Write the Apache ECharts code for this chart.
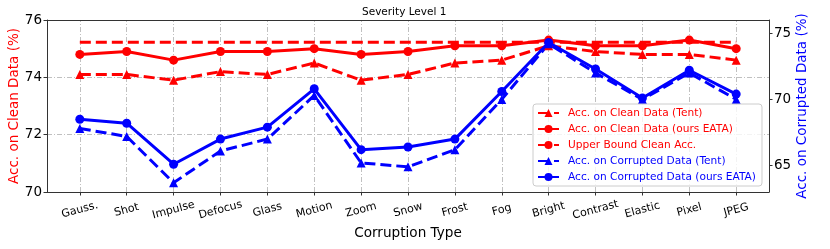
<!DOCTYPE html>
<html>
<head>
<meta charset="utf-8">
<script src="https://cdn.jsdelivr.net/npm/echarts@6/dist/echarts.min.js"></script>
<style>html,body{margin:0;padding:0;background:#fff}#c{width:830px;height:249px}</style>
</head>
<body>
<div id="c"></div>
<script>
const categories = ['Gauss.', 'Shot', 'Impulse', 'Defocus', 'Glass', 'Motion', 'Zoom', 'Snow', 'Frost', 'Fog', 'Bright', 'Contrast', 'Elastic', 'Pixel', 'JPEG'];
const cleanTent = [74.1, 74.1, 73.9, 74.2, 74.1, 74.5, 73.9, 74.1, 74.5, 74.6, 75.1, 74.9, 74.8, 74.8, 74.6];
const cleanEATA = [74.8, 74.9, 74.6, 74.9, 74.9, 75.0, 74.8, 74.9, 75.1, 75.1, 75.3, 75.1, 75.1, 75.3, 75.0];
const upperBound = [75.22, 75.22, 75.22, 75.22, 75.22, 75.22, 75.22, 75.22, 75.22, 75.22, 75.22, 75.22, 75.22, 75.22, 75.22];
const corrTent = [67.8, 67.2, 63.7, 66.1, 67.0, 70.3, 65.2, 64.9, 66.2, 70.0, 74.2, 72.0, 70.0, 72.0, 70.0];
const corrEATA = [68.5, 68.2, 65.1, 67.0, 67.9, 70.8, 66.2, 66.4, 67.0, 70.6, 74.3, 72.3, 70.1, 72.2, 70.4];
const leftTicks = [70, 72, 74, 76];
const rightTicks = [65, 70, 75];

const FONT = 'DejaVu Sans';
const RED = '#ff0000', BLUE = '#0000ff';
const idx = categories.map((_, i) => i);
const pts = arr => arr.map((v, i) => [i, v]);
const GRID_STYLE = { color: '#b0b0b0', width: 0.8, type: [5, 2, 1, 2] };
const spine = { show: true, onZero: false, lineStyle: { color: '#333', width: 1 } };
const LW = 3, DASH = [11, 5], SYM = 9;

const chart = echarts.init(document.getElementById('c'), null, { renderer: 'canvas' });
chart.setOption({
  animation: false,
  backgroundColor: '#fff',
  title: {
    text: 'Severity Level 1', left: 362, top: 7, padding: 0,
    textStyle: { fontFamily: FONT, fontSize: 10.5, fontWeight: 'normal', color: '#000' }
  },
  grid: { left: 47, right: 61, top: 20, bottom: 57, containLabel: false, outerBoundsMode: 'none' },
  legend: {
    orient: 'vertical', left: 533, top: 104,
    padding: [3, 6, 3, 4], itemGap: 4, itemWidth: 21, itemHeight: 10,
    borderColor: '#cccccc', borderWidth: 1, borderRadius: 3, backgroundColor: 'rgba(255,255,255,0.8)',
    textStyle: { fontFamily: FONT, fontSize: 10.6, lineHeight: 12, padding: [0, 0, 0, 4] },
    data: [
      { name: 'Acc. on Clean Data (Tent)', textStyle: { color: RED } },
      { name: 'Acc. on Clean Data (ours EATA)', textStyle: { color: RED } },
      { name: 'Upper Bound Clean Acc.', textStyle: { color: RED } },
      { name: 'Acc. on Corrupted Data (Tent)', textStyle: { color: BLUE } },
      { name: 'Acc. on Corrupted Data (ours EATA)', textStyle: { color: BLUE } }
    ]
  },
  xAxis: [{
    type: 'value', min: -0.7, max: 14.7, position: 'bottom',
    name: 'Corruption Type', nameLocation: 'middle', nameGap: 34, nameMoveOverlap: false,
    nameTextStyle: { fontFamily: FONT, fontSize: 13.6, color: '#000' },
    axisLine: spine,
    axisTick: { show: true, inside: false, length: 3.5, lineStyle: { color: '#333' }, customValues: idx },
    axisLabel: {
      customValues: idx, formatter: v => categories[Math.round(v)] || '',
      rotate: 15, align: 'center', verticalAlign: 'middle', margin: 18,
      fontFamily: FONT, fontSize: 11, color: '#000'
    },
    splitLine: { show: false }
  }, {
    type: 'value', min: -0.7, max: 14.7, position: 'top',
    axisLine: spine, axisTick: { show: false }, axisLabel: { show: false }, splitLine: { show: false }
  }],
  yAxis: [{
    type: 'value', min: 70, max: 76, interval: 2, position: 'left',
    name: 'Acc. on Clean Data (%)', nameLocation: 'middle', nameGap: 26, nameRotate: 90, nameMoveOverlap: false,
    nameTextStyle: { fontFamily: FONT, fontSize: 13.5, color: RED },
    axisLine: spine,
    axisTick: { show: true, length: 3.5, lineStyle: { color: '#333' } },
    axisLabel: { margin: 5, fontFamily: FONT, fontSize: 13.5, color: '#000', formatter: v => leftTicks.includes(v) ? String(v) : '' },
    splitLine: { show: true, lineStyle: GRID_STYLE }
  }, {
    type: 'value', min: 63, max: 76, position: 'right',
    name: 'Acc. on Corrupted Data (%)', nameLocation: 'middle', nameGap: 26, nameRotate: 90, nameMoveOverlap: false,
    nameTextStyle: { fontFamily: FONT, fontSize: 13.5, color: BLUE },
    axisLine: spine,
    axisTick: { show: true, length: 3.5, lineStyle: { color: '#333' }, customValues: rightTicks },
    axisLabel: { customValues: rightTicks, margin: 5, fontFamily: FONT, fontSize: 13.5, color: '#000' },
    splitLine: { show: false }
  }],
  series: [
    { name: 'xgrid', type: 'line', z: 0, data: [], silent: true,
      markLine: { silent: true, symbol: 'none', label: { show: false }, z: 0,
        lineStyle: GRID_STYLE, emphasis: { disabled: true },
        data: idx.map(i => ({ xAxis: i })) } },
    { name: 'Acc. on Clean Data (Tent)', type: 'line', yAxisIndex: 0, data: pts(cleanTent),
      symbol: 'triangle', symbolSize: SYM, color: RED, itemStyle: { color: RED },
      lineStyle: { color: RED, width: LW, type: DASH } },
    { name: 'Acc. on Clean Data (ours EATA)', type: 'line', yAxisIndex: 0, data: pts(cleanEATA),
      symbol: 'circle', symbolSize: SYM, color: RED, itemStyle: { color: RED },
      lineStyle: { color: RED, width: LW, type: 'solid' } },
    { name: 'Upper Bound Clean Acc.', type: 'line', yAxisIndex: 0, data: pts(upperBound),
      symbol: 'none', color: RED, lineStyle: { color: RED, width: LW, type: DASH } },
    { name: 'Acc. on Corrupted Data (Tent)', type: 'line', yAxisIndex: 1, data: pts(corrTent),
      symbol: 'triangle', symbolSize: SYM, color: BLUE, itemStyle: { color: BLUE },
      lineStyle: { color: BLUE, width: LW, type: DASH } },
    { name: 'Acc. on Corrupted Data (ours EATA)', type: 'line', yAxisIndex: 1, data: pts(corrEATA),
      symbol: 'circle', symbolSize: SYM, color: BLUE, itemStyle: { color: BLUE },
      lineStyle: { color: BLUE, width: LW, type: 'solid' } }
  ]
});
</script>
</body>
</html>
